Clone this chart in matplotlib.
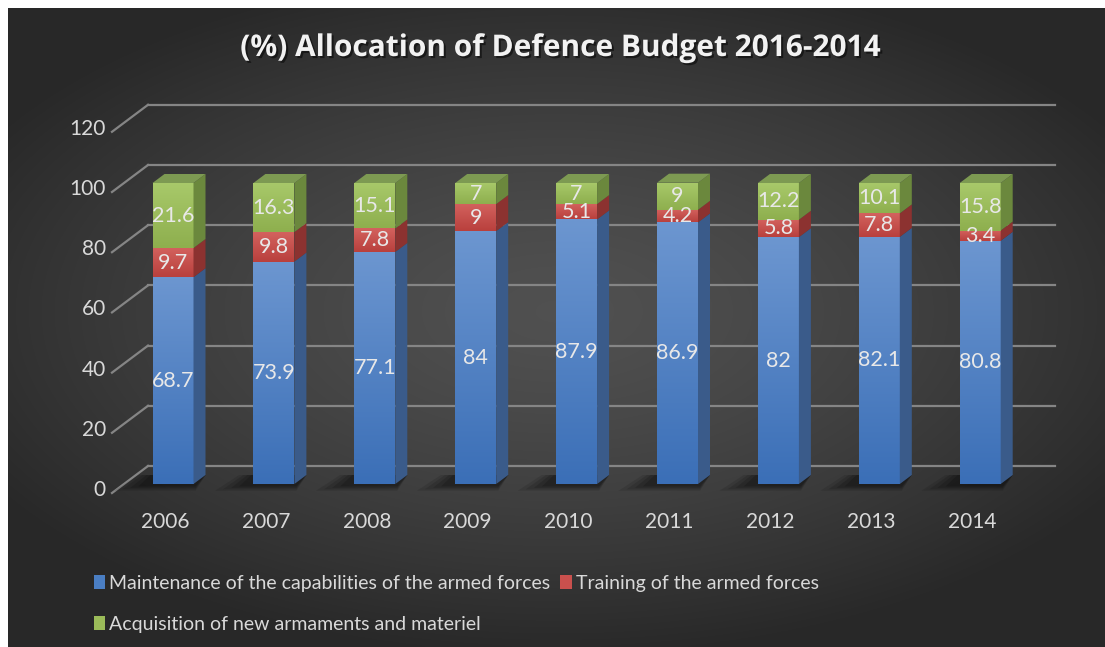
import matplotlib
matplotlib.use("Agg")
import matplotlib.pyplot as plt
import matplotlib.patheffects as pe
import numpy as np
from matplotlib.patches import Patch, Polygon, Rectangle

plt.rcParams["font.family"] = ["Lato", "DejaVu Sans"]

# data
years = ["2006", "2007", "2008", "2009", "2010", "2011", "2012", "2013", "2014"]
maintenance = [68.7, 73.9, 77.1, 84, 87.9, 86.9, 82, 82.1, 80.8]
training = [9.7, 9.8, 7.8, 9, 5.1, 4.2, 5.8, 7.8, 3.4]
acquisition = [21.6, 16.3, 15.1, 7, 7, 9, 12.2, 10.1, 15.8]
series_names = [
    "Maintenance of the capabilities of the armed forces",
    "Training of the armed forces",
    "Acquisition of new armaments and materiel",
]
y_ticks = [0, 20, 40, 60, 80, 100, 120]
title = "(%) Allocation of Defence Budget 2016-2014"

# styling: (front top, front bottom, side, top face)
colors = [
    ("#6c96d0", "#3b6fb7", "#3a5b8a", "#5578aa"),
    ("#d3625e", "#b9403d", "#8c3230", "#a44a47"),
    ("#a8c96a", "#8eaf4e", "#6b883d", "#7d9a52"),
]
legend_colors = ["#4a7ec3", "#c9504d", "#9bbb59"]
W, H = 1105, 647
PX_X = 100.9   # pixels per category
PX_Y = 3.01    # pixels per percent
X0, Y0 = 173, 484  # pixel of first bar centre / value 0 on bar front plane
DX = 36 / PX_X  # full floor depth, data units
DY = 27 / PX_Y
BAR_W = 41 / PX_X
GRID_X0 = (112 - X0) / PX_X
GRID_X1 = (1055 - X0) / PX_X

fig = plt.figure(figsize=(W / 100, H / 100), dpi=100)
fig.patch.set_facecolor("white")

# background panel with radial gradient
bg = fig.add_axes([8 / W, 0, 1 - 8 / W, 1 - 8 / H])
bg.set_axis_off()
gx, gy = np.meshgrid(np.linspace(-1, 1, 300), np.linspace(-1, 1, 200))
r = np.sqrt((gx * 0.9) ** 2 + ((gy + 0.05) * 1.0) ** 2)
shade = np.clip(0.315 - 0.14 * r ** 1.4, 0.16, 0.32)
bg.imshow(np.dstack([shade] * 3), aspect="auto", extent=[0, 1, 0, 1], interpolation="bicubic")

# main axes in bar-front-plane coordinates
px_l, px_r, py_t, py_b = 60, 1080, 95, 545
ax = fig.add_axes([px_l / W, (H - py_b) / H, (px_r - px_l) / W, (py_b - py_t) / H])
ax.set_xlim((px_l - X0) / PX_X, (px_r - X0) / PX_X)
ax.set_ylim((Y0 - py_b) / PX_Y, (Y0 - py_t) / PX_Y)
ax.set_axis_off()

# gridlines: back wall + front diagonal
for v in y_ticks:
    yb = v + 2 * DY / 3
    yf = v - DY / 3
    ax.plot([GRID_X0 + DX, GRID_X1], [yb, yb], color="#858585", lw=1.6, zorder=1)
    ax.plot([GRID_X0, GRID_X0 + DX], [yf, yb], color="#858585", lw=1.6, zorder=1)
    ax.text(GRID_X0 - 0.06, yf + 1.0, str(v), ha="right", va="center",
            color="#d9d9d9", fontsize=15)


def gradient_face(patch, c_top, c_bot, x0, x1, y0, y1):
    ax.add_patch(patch)
    grad = np.linspace(0, 1, 64)[:, None]
    ct = np.array(matplotlib.colors.to_rgb(c_top))
    cb = np.array(matplotlib.colors.to_rgb(c_bot))
    img = ct[None, None, :] * (1 - grad[..., None]) + cb[None, None, :] * grad[..., None]
    im = ax.imshow(img, extent=[x0, x1, y0, y1], aspect="auto",
                   zorder=patch.get_zorder(), interpolation="bilinear")
    im.set_clip_path(patch)


stacks = [maintenance, training, acquisition]
for i, year in enumerate(years):
    # soft shadow on floor
    for k, a in enumerate([0.10, 0.12, 0.14, 0.16]):
        s = 0.04 * (3 - k)
        sx = -0.14 - s
        ax.add_patch(Polygon([
            (i - BAR_W / 2 + sx - s, -0.8 - s * 12),
            (i + BAR_W / 2 + 0.02, -0.8 - s * 12),
            (i + BAR_W / 2 + DX / 3, DY / 3),
            (i - BAR_W / 2 + DX / 3 + sx, DY / 3),
        ], closed=True, facecolor="black", edgecolor="none", alpha=a, zorder=2))

    bottom = 0.0
    for s_idx, series in enumerate(stacks):
        h = series[i]
        top = bottom + h
        c_top, c_bot, c_side, c_cap = colors[s_idx]
        xl, xr = i - BAR_W / 2, i + BAR_W / 2
        front = Rectangle((xl, bottom), BAR_W, h, facecolor="none", edgecolor="none", zorder=3)
        gradient_face(front, c_top, c_bot, xl, xr, bottom, top)
        ax.add_patch(Polygon([
            (xr, bottom), (xr + DX / 3, bottom + DY / 3),
            (xr + DX / 3, top + DY / 3), (xr, top),
        ], closed=True, facecolor=c_side, edgecolor="none", zorder=3))
        if s_idx == len(stacks) - 1:
            ax.add_patch(Polygon([
                (xl, top), (xr, top), (xr + DX / 3, top + DY / 3), (xl + DX / 3, top + DY / 3),
            ], closed=True, facecolor=c_cap, edgecolor="none", zorder=3))
        ax.text(i, bottom + h / 2, f"{h:g}", ha="center", va="center",
                color="#e8e8e8", fontsize=15.5, zorder=5)
        bottom = top

    ax.text(i - DX / 3 + 0.04, -12.6, year, ha="center", va="center",
            color="#d9d9d9", fontsize=15, clip_on=False)

fig.text(561 / W, 1 - 48 / H, title, ha="center", va="center", color="#f2f2f2",
         fontsize=21.5, fontweight="bold", family=["Open Sans", "DejaVu Sans"],
         path_effects=[pe.withSimplePatchShadow(offset=(1.5, -1.5), shadow_rgbFace="black", alpha=0.5)])

handles = [Patch(facecolor=c, edgecolor="none") for c in legend_colors]
order = [0, 2, 1]
leg = fig.legend([handles[k] for k in order], [series_names[k] for k in order],
                 loc="upper left", bbox_to_anchor=(86 / W, 1 - 567 / H), ncol=2,
                 frameon=False, fontsize=14, labelcolor="#d9d9d9",
                 handlelength=0.6, handleheight=0.7, handletextpad=0.2,
                 columnspacing=0.5, labelspacing=1.25, borderaxespad=0)

fig.savefig("out.png", dpi=100)
